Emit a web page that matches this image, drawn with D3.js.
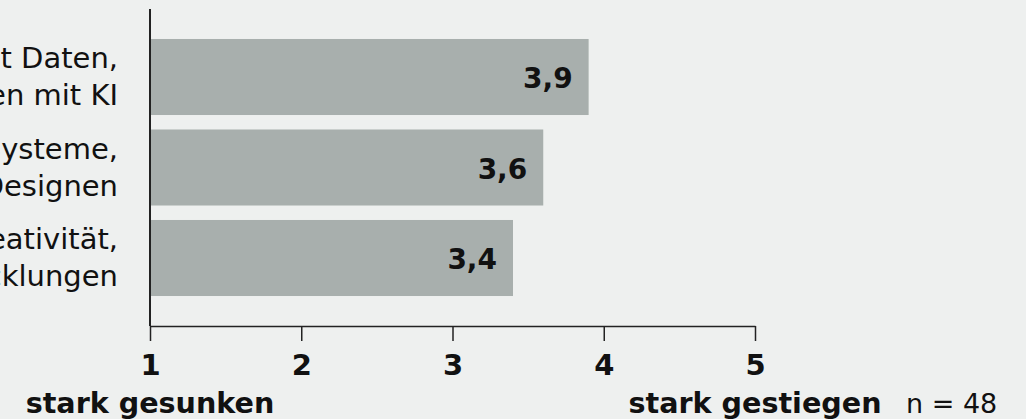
<!DOCTYPE html>
<html>
<head>
<meta charset="utf-8">
<script src="https://cdn.jsdelivr.net/npm/d3@7"></script>
<style>
  html, body { margin: 0; padding: 0; background: #eef0ef; overflow: hidden; }
  svg { display: block; font-family: "DejaVu Sans", sans-serif; }
</style>
</head>
<body>
<svg width="1026" height="419"></svg>
<script>
// data
var categories = ["daten", "systeme", "kreativ"];
var labelLines = [
    ["Umgang mit Daten,", "Programmieren mit KI"],
    ["Technische Systeme,", "Entwerfen, Designen"],
    ["Kreativität,", "Entwicklungen"]
];
var values = [3.9, 3.6, 3.4];
var valueLabels = ["3,9", "3,6", "3,4"];
var tickValues = [1, 2, 3, 4, 5];
var scaleLabels = ["stark gesunken", "stark gestiegen"];
var noteText = "n = 48";

var svg = d3.select("svg");

var x = d3.scaleLinear().domain([1, 5]).range([150, 755]);
var y = d3.scaleBand()
    .domain(categories)
    .range([31.75, 303.25])
    .paddingInner(0.16)
    .paddingOuter(0.08);

// bars
svg.selectAll(".bar")
    .data(values)
    .enter().append("rect")
    .attr("class", "bar")
    .attr("x", x(1))
    .attr("y", function(d, i) { return y(categories[i]); })
    .attr("width", function(d) { return x(d) - x(1); })
    .attr("height", y.bandwidth())
    .attr("fill", "#a8afad");

// value labels
svg.selectAll(".val")
    .data(values)
    .enter().append("text")
    .attr("class", "val")
    .attr("x", function(d) { return x(d) - 16; })
    .attr("y", function(d, i) { return y(categories[i]) + y.bandwidth() / 2 + 11; })
    .attr("text-anchor", "end")
    .attr("font-size", 28)
    .attr("font-weight", "bold")
    .attr("fill", "#111")
    .text(function(d, i) { return valueLabels[i]; });

// category labels (cut off at left edge like the original)
var cats = svg.selectAll(".cat")
    .data(labelLines)
    .enter().append("text")
    .attr("class", "cat")
    .attr("text-anchor", "end")
    .attr("font-size", 29)
    .attr("fill", "#111");

cats.selectAll("tspan")
    .data(function(d, i) {
        return d.map(function(t, j) { return {t: t, j: j, i: i}; });
    })
    .enter().append("tspan")
    .attr("x", 118)
    .attr("y", function(d) {
        return y(categories[d.i]) + y.bandwidth() / 2 - 9 + d.j * 37;
    })
    .text(function(d) { return d.t; });

// x axis
var axis = d3.axisBottom(x)
    .tickValues(tickValues)
    .tickSize(15)
    .tickSizeOuter(0)
    .tickFormat(d3.format("d"));

var gx = svg.append("g")
    .attr("transform", "translate(0,326)")
    .call(axis);

gx.select(".domain").attr("stroke", "#222").attr("stroke-width", 1.5);
gx.selectAll(".tick line").attr("stroke", "#222").attr("stroke-width", 1.5);
gx.selectAll(".tick text")
    .attr("y", 49)
    .attr("dy", 0)
    .attr("font-family", "DejaVu Sans, sans-serif")
    .attr("font-size", 29)
    .attr("font-weight", "bold")
    .attr("fill", "#111");

// y axis line
svg.append("line")
    .attr("x1", x(1)).attr("x2", x(1))
    .attr("y1", 9).attr("y2", 326)
    .attr("stroke", "#222")
    .attr("stroke-width", 2);

// scale end labels
svg.selectAll(".end")
    .data(scaleLabels)
    .enter().append("text")
    .attr("class", "end")
    .attr("x", function(d, i) { return x(i == 0 ? 1 : 5); })
    .attr("y", 413)
    .attr("text-anchor", "middle")
    .attr("font-size", 28.6)
    .attr("font-weight", "bold")
    .attr("fill", "#111")
    .text(function(d) { return d; });

svg.append("text")
    .attr("x", 906)
    .attr("y", 413)
    .attr("font-size", 27)
    .attr("fill", "#111")
    .text(noteText);
</script>
</body>
</html>
